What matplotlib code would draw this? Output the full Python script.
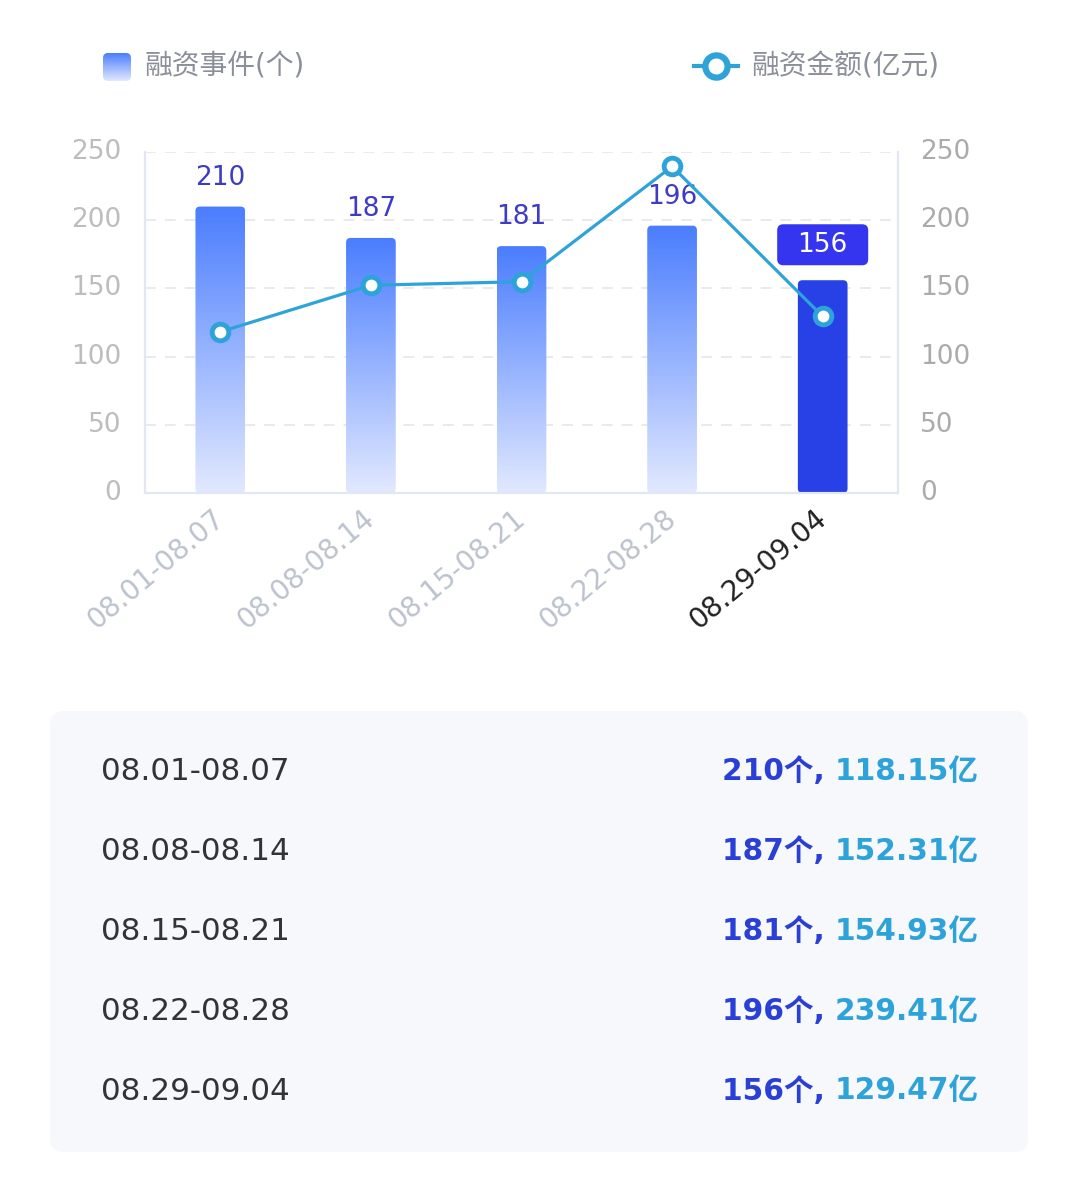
import matplotlib
matplotlib.use("Agg")
import matplotlib.pyplot as plt
import numpy as np
from matplotlib.patches import FancyBboxPatch
from matplotlib.lines import Line2D
from matplotlib.colors import LinearSegmentedColormap
from matplotlib.transforms import ScaledTranslation

categories = ["08.01-08.07", "08.08-08.14", "08.15-08.21", "08.22-08.28", "08.29-09.04"]
events = [210, 187, 181, 196, 156]
amounts = [118.15, 152.31, 154.93, 239.41, 129.47]
yticks = [0, 50, 100, 150, 200, 250]
legend_bar = "融资事件(个)"
legend_line = "融资金额(亿元)"

FAM = ['DejaVu Sans', 'Noto Sans CJK SC']
plt.rcParams['font.family'] = FAM

W, H = 1080, 1183
fig = plt.figure(figsize=(W/100, H/100), dpi=100)
fig.patch.set_facecolor('white')

ax = fig.add_axes([145/W, 1-493/H, (898-145)/W, (493-152)/H])
ax.set_xlim(-0.5, 4.5)
ax.set_ylim(0, 250)
ax2 = ax.twinx()
ax2.set_ylim(0, 250)

axis_c = '#E3E6F3'
for a in (ax, ax2):
    a.spines['top'].set_visible(False)
    for s in ('left', 'right', 'bottom'):
        a.spines[s].set_color(axis_c)
        a.spines[s].set_linewidth(1.5)
    a.tick_params(length=0)
ax.set_yticks(yticks)
ax.set_yticklabels([str(v) for v in yticks], fontsize=19, color='#BDBDBD')
ax.tick_params(axis='y', pad=17)
ax2.set_yticks(yticks)
ax2.set_yticklabels([str(v) for v in yticks], fontsize=19, color='#ABABAB')
ax2.tick_params(axis='y', pad=16)
shift = ScaledTranslation(0, 3/100, fig.dpi_scale_trans)
for a in (ax, ax2):
    for t in a.get_yticklabels():
        t.set_transform(t.get_transform() + shift)
for v in yticks[1:]:
    ax.axhline(v, color='#E6E8EE', lw=1.3, ls=(0, (6, 5)), zorder=0)

x = np.arange(len(categories))
bars = ax.bar(x, events, width=0.33, color='none', edgecolor='none', zorder=2)

cmap = LinearSegmentedColormap.from_list('g', ['#E2E9FE', '#4A7DFF'])
grad = np.linspace(0, 1, 256).reshape(-1, 1)
last = len(categories) - 1
mut_aspect = (250/341) / (5/753)
for i, r in enumerate(bars):
    x0, w, h = r.get_x(), r.get_width(), r.get_height()
    patch = FancyBboxPatch((x0, 0), w, h, boxstyle="round,pad=0,rounding_size=0.03",
                           mutation_aspect=mut_aspect, facecolor='none', edgecolor='none',
                           transform=ax.transData, zorder=2)
    ax.add_patch(patch)
    if i == last:
        patch.set_facecolor('#2741E6')
    else:
        im = ax.imshow(grad, cmap=cmap, aspect='auto', extent=(x0, x0+w, 0, h),
                       origin='lower', zorder=2, interpolation='bilinear')
        im.set_clip_path(patch)
    ax.set_xlim(-0.5, 4.5); ax.set_ylim(0, 250)

for i, v in enumerate(events):
    if i != last:
        ax.text(i, v + 21, str(v), ha='center', va='center', fontsize=19, color='#3E3CC4', zorder=6)

ax.set_xticks(x)
ax.set_xticklabels(categories, rotation=40, ha='right', va='center', rotation_mode='anchor',
                   fontsize=20)
ax.tick_params(axis='x', pad=16)
for i, t in enumerate(ax.get_xticklabels()):
    t.set_color('#222222' if i == last else '#BCC3CE')

line_c = '#2EA3DA'
ax2.plot(x, amounts, color=line_c, lw=2.3, marker='o', ms=12, mfc='white', mec=line_c, mew=3.5, zorder=5)
ax.set_zorder(1); ax2.set_zorder(2); ax2.patch.set_visible(False)

# overlay axes in pixel coordinates
lax = fig.add_axes([0, 0, 1, 1]); lax.set_xlim(0, W); lax.set_ylim(H, 0); lax.axis('off')
lax.set_zorder(3)

# highlighted label box for last bar
cx, cy = ax.transData.transform((last, events[last] + 26))
cy = H - cy
bw, bh = 91, 41
lax.add_patch(FancyBboxPatch((cx - bw/2, cy - bh/2), bw, bh, boxstyle='round,pad=0,rounding_size=6',
                             fc='#3535F0', ec='none', zorder=6))
lax.text(cx, cy, str(events[last]), ha='center', va='center', fontsize=19, color='white', zorder=7)

# legend
sq = FancyBboxPatch((103, 53), 28, 28, boxstyle='round,pad=0,rounding_size=5', fc='none', ec='none')
lax.add_patch(sq)
img = lax.imshow(grad[::-1], cmap=cmap, aspect='auto', extent=(103, 131, 81, 53), interpolation='bilinear')
img.set_clip_path(sq)
lax.set_xlim(0, W); lax.set_ylim(H, 0)
lax.text(145, 66, legend_bar, fontsize=20, color='#8A8F99', va='center', ha='left', family=FAM)
lax.add_line(Line2D([694, 738], [66, 66], color=line_c, lw=3))
lax.add_line(Line2D([716], [66], marker='o', ms=16, mfc='white', mec=line_c, mew=4.5, color=line_c))
lax.text(752, 66, legend_line, fontsize=20, color='#8A8F99', va='center', ha='left', family=FAM)

# table
tb = FancyBboxPatch((50, 711), 978, 441, boxstyle='round,pad=0,rounding_size=14',
                    fc='#F6F8FC', ec='none', zorder=0)
lax.add_patch(tb)
row_y = [771, 851, 931, 1011, 1091]
fig.canvas.draw()
r = fig.canvas.get_renderer()
for i, (c, e, a) in enumerate(zip(categories, events, amounts)):
    y = row_y[i]
    lax.text(101, y, c, fontsize=22.3, color='#333333', va='center', ha='left', family=FAM, zorder=2)
    t2 = lax.text(979, y, f"{a:.2f}亿", fontsize=21.3, color='#2EA3DA', fontweight='bold',
                  va='center', ha='right', family=FAM, zorder=2)
    bb = t2.get_window_extent(renderer=r)
    lax.text(bb.x0, y, f"{e}个, ", fontsize=21.3, color='#2A3FD6', fontweight='bold',
             va='center', ha='right', family=FAM, zorder=2)

fig.savefig('out.png', dpi=100, facecolor='white')
